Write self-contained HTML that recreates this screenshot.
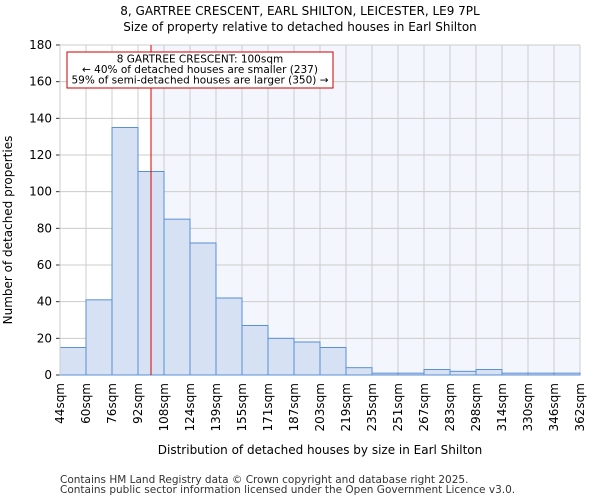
<!DOCTYPE html>
<html><head><meta charset="utf-8"><style>
body{margin:0;background:#fff;font-family:"DejaVu Sans","Liberation Sans",sans-serif;}
</style></head><body>
<svg id="chart" width="600" height="500" xmlns="http://www.w3.org/2000/svg" font-family="DejaVu Sans, Liberation Sans, sans-serif">
<text x="300" y="15" text-anchor="middle" font-size="12">8, GARTREE CRESCENT, EARL SHILTON, LEICESTER, LE9 7PL</text>
<text x="300" y="31" text-anchor="middle" font-size="12">Size of property relative to detached houses in Earl Shilton</text>
<g id="plot"></g>
<text x="320" y="454" text-anchor="middle" font-size="12">Distribution of detached houses by size in Earl Shilton</text>
<text x="12" y="230" text-anchor="middle" font-size="12" transform="rotate(-90 12 230)">Number of detached properties</text>
<text x="60" y="483" font-size="10.5" fill="#333">Contains HM Land Registry data © Crown copyright and database right 2025.</text>
<text x="60" y="493" font-size="10.5" fill="#333">Contains public sector information licensed under the Open Government Licence v3.0.</text>
</svg>
<script>
const binLabels=["44sqm","60sqm","76sqm","92sqm","108sqm","124sqm","139sqm","155sqm","171sqm","187sqm","203sqm","219sqm","235sqm","251sqm","267sqm","283sqm","298sqm","314sqm","330sqm","346sqm","362sqm"];
const counts=[15,41,135,111,85,72,42,27,20,18,15,4,1,1,3,2,3,1,1,1];
const yTicks=[0,20,40,60,80,100,120,140,160,180];
const markerSqm=100;
const binStart=44, binWidthSqm=16;
const L=60,R=580,T=45,B=375,yMax=180;
const NS="http://www.w3.org/2000/svg";
const g=document.getElementById('plot');
const bw=(R-L)/counts.length;
const xIdx=i=>L+i*bw;
const y=v=>B-(v/yMax)*(B-T);
const xSqm=s=>L+((s-binStart)/binWidthSqm)*bw;
function mk(t,a){const e=document.createElementNS(NS,t);for(const k in a)e.setAttribute(k,a[k]);g.appendChild(e);return e;}
const mx=xSqm(markerSqm);
let e=mk('rect',{x:mx,y:T,width:R-mx,height:B-T,fill:'#f3f6fd'});


yTicks.forEach(v=>{
 let l=mk('line',{x1:L,x2:R,y1:y(v),y2:y(v),stroke:'#ccc','stroke-width':1});
 
 
 let tk=mk('line',{x1:L-4,x2:L,y1:y(v),y2:y(v),stroke:'#333'});
 
 
 let t=mk('text',{x:L-8,y:y(v)+4,'text-anchor':'end','font-size':12});
 t.textContent=v;
 
 
});
binLabels.forEach((s,i)=>{
 let l=mk('line',{x1:xIdx(i),x2:xIdx(i),y1:T,y2:B,stroke:'#ccc'});
 
 
 let t=mk('text',{x:0,y:0,'text-anchor':'end','font-size':12,transform:`translate(${xIdx(i)+4},${B+8}) rotate(-90)`});
 t.textContent=s;
 
 
});
counts.forEach((c,i)=>{
 let r=mk('rect',{x:xIdx(i),y:y(c),width:bw,height:B-y(c),fill:'#d6e2f3',stroke:'#5b8fd6','stroke-width':1});
 
 
});
let ax=mk('line',{x1:L,x2:L,y1:T,y2:B,stroke:'#ccc'});


let ml=mk('line',{x1:mx,x2:mx,y1:T,y2:B,stroke:'#d00','stroke-width':1});


let box=mk('rect',{x:67,y:52,width:266,height:36,fill:'#fff',stroke:'#c00','stroke-width':1});


["8 GARTREE CRESCENT: 100sqm","← 40% of detached houses are smaller (237)","59% of semi-detached houses are larger (350) →"].forEach((s,i)=>{
 let t=mk('text',{x:200,y:62.5+i*10.5,'text-anchor':'middle','font-size':10.5});
 t.textContent=s;
 
 
});
</script>
</body></html>
